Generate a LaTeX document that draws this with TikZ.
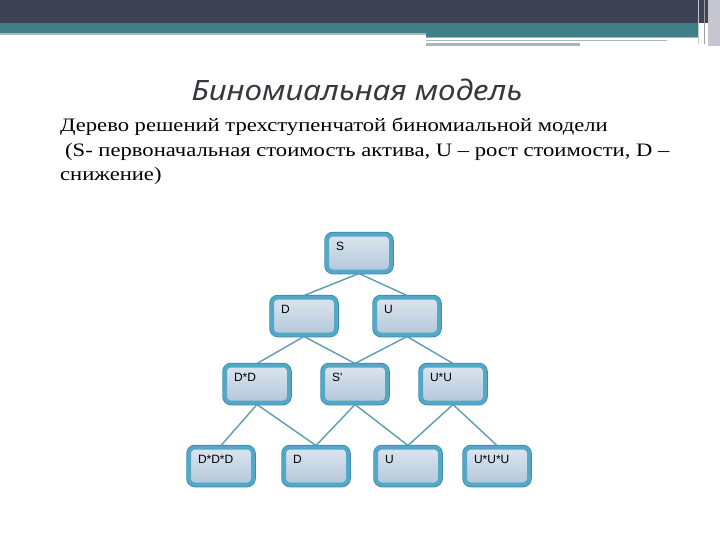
\documentclass[tikz,border=0pt]{standalone}
\usepackage{fontspec}
\setmainfont{Liberation Serif}
\newfontfamily\bodyfont[FakeStretch=1.19,Ligatures=TeX]{Liberation Serif}
\newfontfamily\titlefont[FakeStretch=1.12]{Noto Sans}
\newfontfamily\labelfont{Liberation Sans}
\usetikzlibrary{positioning}

\definecolor{headdark}{HTML}{3E4254}
\definecolor{headteal}{HTML}{3F7F88}
\definecolor{headgrey}{HTML}{A7B8BD}
\definecolor{edgegrey}{HTML}{C6C6D0}
\definecolor{titlegrey}{HTML}{38383F}
\definecolor{boxedge}{HTML}{52A8C6}
\definecolor{boxdark}{HTML}{3A88A8}
\definecolor{boxtop}{HTML}{DCE5EF}
\definecolor{boxbottom}{HTML}{B3C7DA}
\definecolor{linkblue}{HTML}{5B9CB6}

\begin{document}
\begin{tikzpicture}[x=1pt,y=-1pt,
  stepbox/.style={rectangle, rounded corners=6pt, line width=4pt, draw=boxedge,
    preaction={draw=boxdark, line width=5.5pt},
    top color=boxtop, bottom color=boxbottom,
    inner xsep=9pt, inner ysep=4pt, text width=46pt, align=left,
    text height=12pt, text depth=17pt, font=\labelfont\fontsize{12}{14}\selectfont},
  link/.style={linkblue, line width=1.4pt}]
\useasboundingbox (0,0) rectangle (720,540);

% header bands
\fill[headdark] (0,0) rectangle (708,23);
\fill[headteal] (0,23) rectangle (698,33);
\fill[headteal] (426,33) rectangle (698,37);
\fill[headgrey] (0,33) rectangle (426,35);
\fill[headgrey] (426,37) rectangle (698,38);
\draw[headgrey, line width=0.8pt] (426,40) -- (667,40);
\fill[headgrey] (426,43) rectangle (580,46);
\fill[edgegrey] (708,0) rectangle (720,46);
\draw[edgegrey, line width=1pt] (698,0) -- (698,44);
\draw[edgegrey!80!black, line width=0.6pt] (704,0) -- (704,44);

% texts
\node[font=\titlefont\itshape\fontsize{28}{32}\selectfont, text=titlegrey] (title) at (357,90) {Биномиальная модель};
\node[anchor=north west, inner sep=0pt, align=left, font=\bodyfont\fontsize{19}{24.5}\selectfont] (caption) at (60,118)
  {Дерево решений трехступенчатой биномиальной модели\\
   \hspace{5pt}(S- первоначальная стоимость актива, U – рост стоимости, D –\\
   снижение)};

% tree
\node[stepbox] (s) at (359,253) {S};
\node[stepbox] (d) at (304,316) {D};
\node[stepbox] (u) at (407,316) {U};
\node[stepbox] (dd) at (257,384) {D*D};
\node[stepbox] (s1) at (355,384) {S'};
\node[stepbox] (uu) at (453,384) {U*U};
\node[stepbox] (ddd) at (221,466) {D*D*D};
\node[stepbox] (d1) at (316,466) {D};
\node[stepbox] (u1) at (408,466) {U};
\node[stepbox] (uuu) at (497,466) {U*U*U};

\foreach \a/\b in {s/d,s/u,d/dd,d/s1,u/s1,u/uu,dd/ddd,dd/d1,s1/d1,s1/u1,uu/u1,uu/uuu}
\draw[link] (\a.south) -- (\b.north);
\end{tikzpicture}
\end{document}
